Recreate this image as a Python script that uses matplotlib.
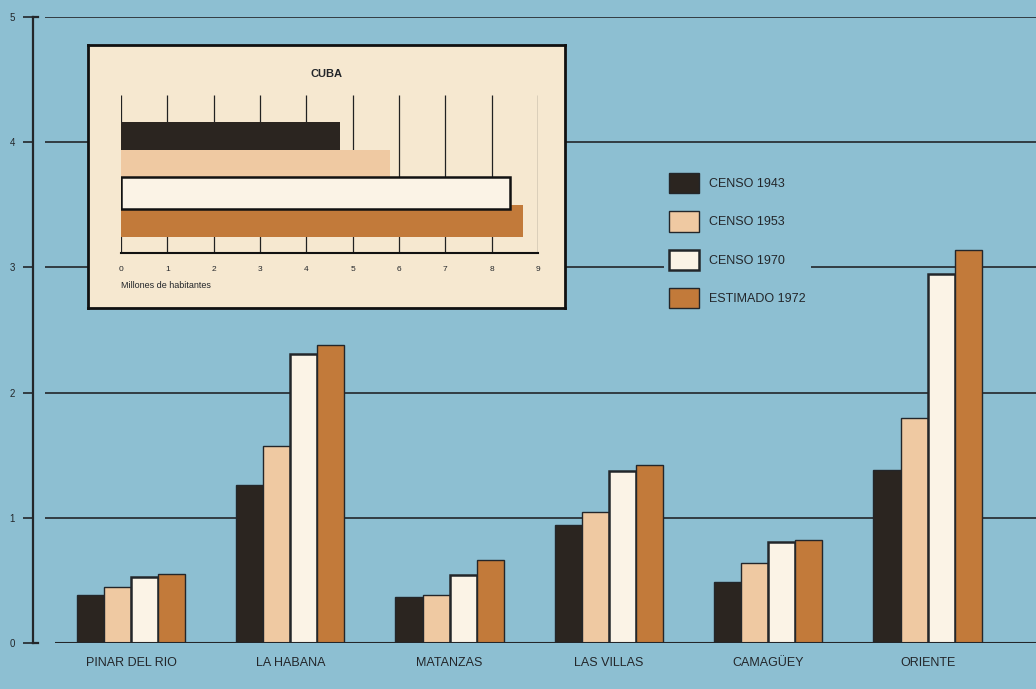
import matplotlib.pyplot as plt
import numpy as np

# datos (millones de habitantes)
provincias = ["PINAR DEL RIO", "LA HABANA", "MATANZAS", "LAS VILLAS", "CAMAGÜEY", "ORIENTE"]
series = ["CENSO 1943", "CENSO 1953", "CENSO 1970", "ESTIMADO 1972"]
censo_1943 = [0.38, 1.26, 0.37, 0.94, 0.49, 1.38]
censo_1953 = [0.45, 1.57, 0.38, 1.05, 0.64, 1.80]
censo_1970 = [0.53, 2.31, 0.54, 1.37, 0.81, 2.95]
estimado_1972 = [0.55, 2.38, 0.66, 1.42, 0.82, 3.14]
cuba_total = [4.73, 5.81, 8.40, 8.68]

bg = '#8dbfd2'
ink = '#23262a'
colores = ['#2b2520', '#efc9a2', '#fbf3e6', '#c27a3a']

plt.rcParams['font.family'] = ['Liberation Sans Narrow', 'Liberation Sans', 'DejaVu Sans']

fig = plt.figure(figsize=(10.36, 6.89), dpi=100, facecolor=bg)
ax = fig.add_axes([33 / 1036, 46 / 689, 1003 / 1036, 626 / 689])
ax.set_facecolor(bg)

valores = [censo_1943, censo_1953, censo_1970, estimado_1972]
x = np.arange(len(provincias))
w = 0.17
for i, (vals, c) in enumerate(zip(valores, colores)):
    lw = 1.8 if i == 2 else 1.0
    ax.bar(x + (i - 1.5) * w, vals, w, color=c, edgecolor=ink, linewidth=lw,
           label=series[i], zorder=3)

ax.set_xlim(-0.615, 5.68)
ax.set_ylim(0, 5)
ax.hlines([1, 2, 3, 4, 5], -0.54, 5.68, color=ink, linewidth=1.2, zorder=1)
ax.hlines(0, -0.48, 5.68, color=ink, linewidth=1.5, zorder=4)

for s in ['top', 'right', 'bottom']:
    ax.spines[s].set_visible(False)
ax.spines['left'].set_color(ink)
ax.spines['left'].set_linewidth(1.6)
ax.set_yticks([0, 1, 2, 3, 4, 5])
ax.tick_params(axis='y', direction='out', length=7, width=1.2, color=ink,
               labelsize=7, labelcolor=ink, pad=6)
ax.set_xticks(x)
ax.set_xticklabels(provincias, fontsize=9, color=ink)
ax.tick_params(axis='x', length=0, pad=10)
# ganchos del eje en 0 y 5
ax.plot([-0.615, -0.585], [5, 5], color=ink, lw=1.6, clip_on=False)
ax.plot([-0.615, -0.585], [0, 0], color=ink, lw=1.6, clip_on=False)

leg = ax.legend(loc='upper left', bbox_to_anchor=(0.635, 0.765), bbox_transform=fig.transFigure,
                handlelength=2.4, handleheight=2.1, labelspacing=1.45, handletextpad=0.8,
                fontsize=9, frameon=True, facecolor=bg, edgecolor='none', framealpha=1,
                borderpad=0.4)
for t in leg.get_texts():
    t.set_color(ink)

# recuadro CUBA
box = fig.add_axes([88 / 1036, (689 - 308) / 689, 477 / 1036, 263 / 689])
box.set_facecolor('#f6e8d0')
box.set_xticks([])
box.set_yticks([])
for s in box.spines.values():
    s.set_color('#111')
    s.set_linewidth(2)
box.text(0.5, 0.89, "CUBA", ha='center', va='center', fontsize=8, fontweight='bold',
         color=ink, transform=box.transAxes, family=['Liberation Sans', 'DejaVu Sans'])
box.text(33 / 477, 0.085, "Millones de habitantes", ha='left', va='center', fontsize=6.5,
         color=ink, transform=box.transAxes)

ins = fig.add_axes([121 / 1036, (689 - 253) / 689, 417 / 1036, 158 / 689])
ins.patch.set_alpha(0)
pos = [3, 2, 1, 0]
orden = [3.0, 3.1, 3.3, 3.2]
for i in range(4):
    lw = 1.8 if i == 2 else 0
    ins.barh(pos[i], cuba_total[i], 1.15, color=colores[i], edgecolor='#111',
             linewidth=lw, zorder=orden[i])
ins.set_xlim(0, 9)
ins.set_ylim(-1.14, 4.54)
ins.vlines(np.arange(0, 10), -1.14, 4.54, color='#222', linewidth=0.9, zorder=1)
for s in ['top', 'right', 'left']:
    ins.spines[s].set_visible(False)
ins.spines['bottom'].set_color('#111')
ins.spines['bottom'].set_linewidth(1.5)
ins.set_yticks([])
ins.set_xticks(np.arange(0, 10))
ins.tick_params(axis='x', length=0, labelsize=6, labelcolor=ink, pad=9)

fig.savefig('out.png', dpi=100, facecolor=bg)
